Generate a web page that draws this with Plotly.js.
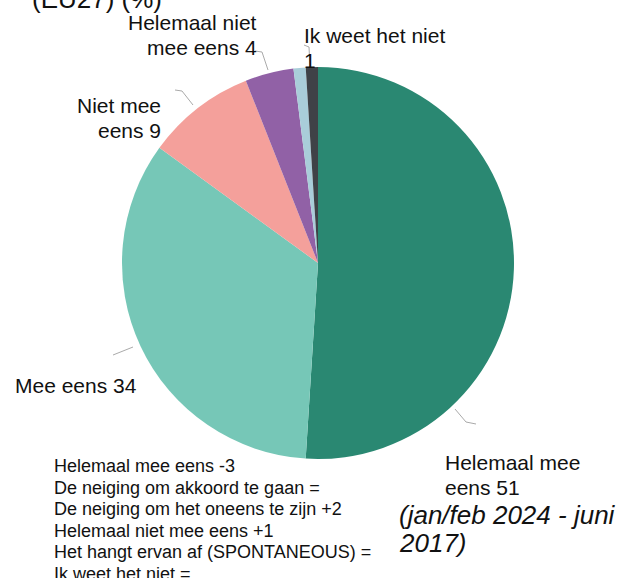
<!DOCTYPE html>
<html>
<head>
<meta charset="utf-8">
<script src="https://cdn.plot.ly/plotly-3.0.1.min.js"></script>
<style>html,body{margin:0;padding:0;background:#fff;}#chart{width:624px;height:578px;}</style>
</head>
<body>
<div id="chart"></div>
<script>
// Data
const categories = ["Helemaal mee eens", "Mee eens", "Niet mee eens", "Helemaal niet mee eens", "Het hangt ervan af (SPONTANEOUS)", "Ik weet het niet"];
const values = [51, 34, 9, 4, 1, 1];
const sliceLabels = [["Helemaal mee", "eens 51"], ["Mee eens 34"], ["Niet mee", "eens 9"], ["Helemaal niet", "mee eens 4"], [], ["Ik weet het niet", "1"]];
const changeLines = [
  "Helemaal mee eens -3",
  "De neiging om akkoord te gaan =",
  "De neiging om het oneens te zijn +2",
  "Helemaal niet mee eens +1",
  "Het hangt ervan af (SPONTANEOUS) =",
  "Ik weet het niet ="
];
const titleText = "(EU27) (%)";
const periodLines = ["<i>(jan/feb 2024 - juni</i>", "<i>2017)</i>"];
const colors = ["#2a8872", "#76c7b7", "#f4a09b", "#9161a6", "#a9cdd9", "#3f4247"];

const W = 624, H = 578;
const px = x => x / W;
const py = y => 1 - y / H;
const font = "Liberation Sans, Arial, sans-serif";

const trace = {
  type: "pie",
  labels: categories,
  values: values,
  sort: false,
  direction: "clockwise",
  rotation: 0,
  marker: {colors: colors, line: {width: 0}},
  textinfo: "none",
  hoverinfo: "none",
  showlegend: false,
  domain: {x: [px(121), px(515)], y: [py(459), py(67)]}
};

const annotations = [];
function ann(text, x, y, xanchor, size) {
  annotations.push({
    text: text, x: px(x), y: py(y), xref: "paper", yref: "paper",
    xanchor: xanchor, yanchor: "middle", showarrow: false,
    font: {family: font, size: size, color: "#111"}
  });
}
function multi(lines, x, y0, dy, xanchor, size) {
  lines.forEach((t, i) => ann(t, x, y0 + i * dy, xanchor, size));
}
ann(titleText, 30, -1, "left", 26);
multi(sliceLabels[3], 259, 22, 25, "right", 21);
multi(sliceLabels[5], 302, 35, 25, "left", 21);
multi(sliceLabels[2], 163, 105, 25, "right", 21);
multi(sliceLabels[1], 13, 385, 25, "left", 21);
multi(sliceLabels[0], 443, 462, 25, "left", 21);
multi(periodLines, 397, 515, 28, "left", 26);
multi(changeLines, 52, 466, 21.6, "left", 18);

const lc = {color: "#aaaaaa", width: 1};
function path(pts) {
  return {type: "path", xref: "paper", yref: "paper", line: lc,
    path: pts.map((p, i) => (i ? "L" : "M") + px(p[0]) + "," + py(p[1])).join(" ")};
}
const shapes = [
  path([[175, 90], [182, 91], [193, 105]]),
  path([[255, 51], [262, 52], [268, 70]]),
  path([[304, 45], [309, 47], [310, 67]]),
  path([[113, 355], [133, 347]]),
  path([[455, 409], [466, 422], [476, 424]])
];

const layout = {
  width: W, height: H,
  margin: {l: 0, r: 0, t: 0, b: 0},
  paper_bgcolor: "#fff",
  plot_bgcolor: "#fff",
  showlegend: false,
  annotations: annotations,
  shapes: shapes
};
Plotly.newPlot("chart", [trace], layout, {displayModeBar: false, staticPlot: true});
</script>
</body>
</html>
